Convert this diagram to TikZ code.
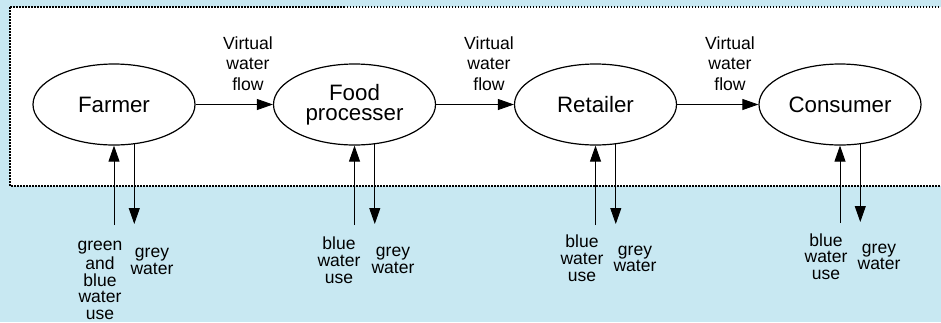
\documentclass[tikz,border=0pt]{standalone}
\usepackage{fontspec}
\setmainfont{Liberation Sans}
\usetikzlibrary{shapes.geometric,arrows.meta}
\definecolor{bgblue}{RGB}{200,232,242}
\tikzset{
  actor/.style={ellipse,draw,line width=1.2pt,fill=white,minimum width=162pt,minimum height=81pt,inner sep=0pt,align=center,font=\fontsize{22.3}{20.5}\selectfont},
  flowarrow/.style={draw,line width=0.9pt,-{Triangle[length=16pt,width=11pt]}},
  flowlabel/.style={inner sep=0pt,align=center,anchor=north,font=\fontsize{17.6}{20.3}\selectfont},
  waterlabel/.style={inner sep=0pt,align=center,anchor=north,font=\fontsize{17.5}{16.6}\selectfont},
  boundary/.style={line width=1.6pt,dash pattern=on 1.5pt off 1.5pt,draw=black}
}
\begin{document}
\begin{tikzpicture}[x=1pt,y=-1pt]
\useasboundingbox (0,0) rectangle (941,322);
\fill[bgblue] (0,0) rectangle (941,322);
\path[boundary,fill=white] (10,7) rectangle (960,186);

\node[actor] (farmer) at (114,104.5) {Farmer};
\node[actor] (food) at (354.5,104.5) {Food\\processer};
\node[actor] (retailer) at (595.5,104.5) {Retailer};
\node[actor] (consumer) at (840,104.5) {Consumer};

\draw[flowarrow] (farmer.east) -- (food.west);
\draw[flowarrow] (food.east) -- (retailer.west);
\draw[flowarrow] (retailer.east) -- (consumer.west);

\node[flowlabel] (vf1) at (248,35) {\strut Virtual\\water\\flow};
\node[flowlabel] (vf2) at (489,35) {\strut Virtual\\water\\flow};
\node[flowlabel] (vf3) at (730,35) {\strut Virtual\\water\\flow};

% vertical arrows: start / end coordinates
\coordinate (fin) at (114,225);
\coordinate (fout) at (134,224);
\coordinate (pin) at (354.5,225);
\coordinate (pout) at (374.5,224);
\coordinate (rin) at (595.5,225);
\coordinate (rout) at (615.5,224);
\coordinate (cin) at (840,223);
\coordinate (cout) at (860,222);

\draw[flowarrow] (fin) -- (farmer.south);
\draw[flowarrow] (farmer.-63) -- (farmer.-63 |- fout);
\draw[flowarrow] (pin) -- (food.south);
\draw[flowarrow] (food.-63) -- (food.-63 |- pout);
\draw[flowarrow] (rin) -- (retailer.south);
\draw[flowarrow] (retailer.-63) -- (retailer.-63 |- rout);
\draw[flowarrow] (cin) -- (consumer.south);
\draw[flowarrow] (consumer.-63) -- (consumer.-63 |- cout);

\node[waterlabel] (fl1) at (100,239) {\strut green\\and\\blue\\water\\use};
\node[waterlabel] (fl2) at (152,246) {\strut grey\\water};
\node[waterlabel] (pl1) at (339,237) {\strut blue\\water\\use};
\node[waterlabel] (pl2) at (393,245) {\strut grey\\water};
\node[waterlabel] (rl1) at (582,235) {\strut blue\\water\\use};
\node[waterlabel] (rl2) at (635,243.5) {\strut grey\\water};
\node[waterlabel] (cl1) at (826,233.5) {\strut blue\\water\\use};
\node[waterlabel] (cl2) at (879,241.5) {\strut grey\\water};
\end{tikzpicture}
\end{document}
